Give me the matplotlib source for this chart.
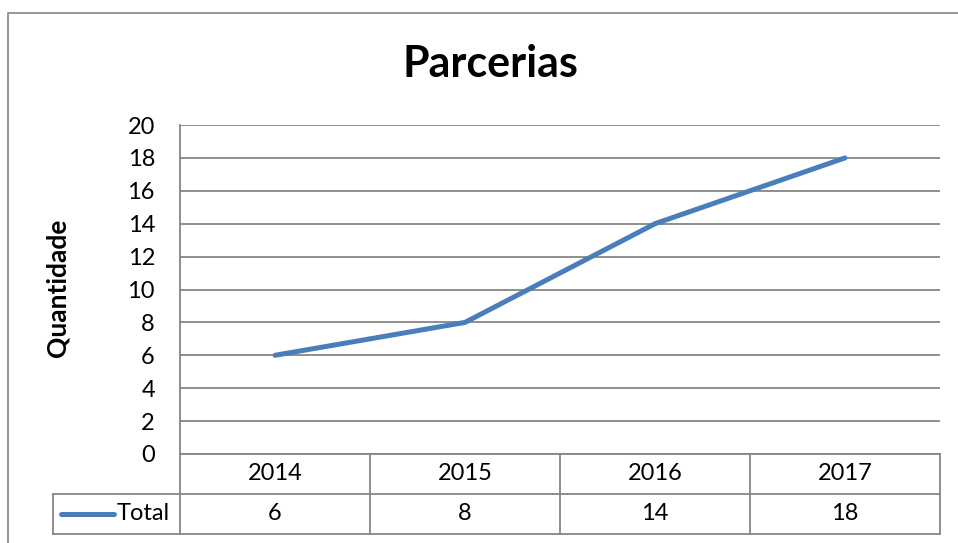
import matplotlib
matplotlib.use("Agg")
import matplotlib.pyplot as plt
from matplotlib.lines import Line2D

categories = ["2014", "2015", "2016", "2017"]
values = [6, 8, 14, 18]
series_name = "Total"
title = "Parcerias"
ylabel = "Quantidade"
yticks = list(range(0, 21, 2))

W, H = 958, 543
fig = plt.figure(figsize=(W / 100, H / 100), dpi=100)
plt.rcParams['font.family'] = ['Lato', 'DejaVu Sans']

def fx(px):
    return px / W

def fy(py):
    return 1 - py / H

grid_c = "#868686"
line_c = "#4A7EBB"
fs = 17

left, right, top, bottom = 180, 940, 125, 454
ax = fig.add_axes([fx(left), fy(bottom), fx(right) - fx(left), fy(top) - fy(bottom)])
x = list(range(1, len(categories) + 1))
ax.plot(x, values, color=line_c, lw=3.6, solid_capstyle="round", zorder=3)
ax.set_xlim(0.5, len(categories) + 0.5)
ax.set_ylim(0, 20)
ax.set_yticks(yticks)
ax.set_yticklabels([str(t) for t in yticks], fontsize=fs)
ax.set_xticks([])
for t in yticks:
    ax.axhline(t, color=grid_c, lw=1.3, zorder=1)
for s in ["top", "right", "bottom"]:
    ax.spines[s].set_visible(False)
ax.spines["left"].set_color(grid_c)
ax.spines["left"].set_linewidth(1.3)
ax.tick_params(axis="y", length=0, pad=18)
fig.text(fx(57), fy(288), ylabel, rotation=90, ha="center", va="center",
         fontsize=19, fontweight="bold")

# data table
row_h = 40
tbl_top = bottom
ylines = [tbl_top, tbl_top + row_h, tbl_top + 2 * row_h]
trans = ax.get_xaxis_transform()
axh = bottom - top
def ay(py):
    return (bottom - py) / axh

for yl in ylines:
    ax.plot([0.5, 4.5], [ay(yl)] * 2, transform=trans, color=grid_c, lw=1.3, clip_on=False)
for b in [0.5 + i for i in range(len(categories) + 1)]:
    ax.plot([b, b], [ay(ylines[0]), ay(ylines[2])], transform=trans, color=grid_c, lw=1.3, clip_on=False)
for xi, c, v in zip(x, categories, values):
    ax.text(xi, ay(tbl_top + row_h / 2), c, transform=trans, ha="center", va="center", fontsize=fs)
    ax.text(xi, ay(tbl_top + 1.5 * row_h), str(v), transform=trans, ha="center", va="center", fontsize=fs)

# legend cell
lx0 = 53
fig.add_artist(Line2D([fx(lx0), fx(left)], [fy(ylines[1])] * 2, color=grid_c, lw=1.3))
fig.add_artist(Line2D([fx(lx0), fx(left)], [fy(ylines[2])] * 2, color=grid_c, lw=1.3))
fig.add_artist(Line2D([fx(lx0)] * 2, [fy(ylines[1]), fy(ylines[2])], color=grid_c, lw=1.3))
ym = ylines[1] + row_h / 2
fig.add_artist(Line2D([fx(61), fx(114)], [fy(ym)] * 2, color=line_c, lw=3.6, solid_capstyle="round"))
fig.text(fx(117), fy(ym), series_name, ha="left", va="center", fontsize=fs)

# title
fig.text(fx(490), fy(64), title, ha="center", va="center", fontsize=31, fontweight="bold")

# outer chart border (cut off at right/bottom)
fig.add_artist(Line2D([fx(8), fx(8), fx(W + 5)], [fy(H + 5), fy(13), fy(13)], color="#8C8C8C", lw=1.3))

fig.savefig("out.png", dpi=100, facecolor="white")
